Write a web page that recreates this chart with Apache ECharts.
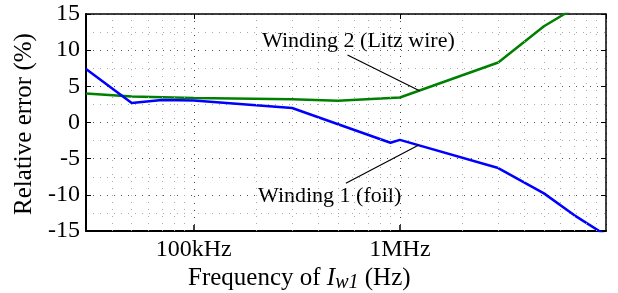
<!DOCTYPE html>
<html>
<head>
<meta charset="utf-8">
<script src="https://cdn.jsdelivr.net/npm/echarts@6/dist/echarts.min.js"></script>
<style>
  html, body { margin: 0; padding: 0; background: #fff; }
  #chart { width: 618px; height: 293px; }
</style>
</head>
<body>
<div id="chart"></div>
<script>
// Winding 1 (foil) - blue
const foilFreq = [30e3, 50e3, 70e3, 100e3, 300e3, 900e3, 1e6, 3e6, 5e6, 7e6, 10e6];
const foilErr = [7.4, 2.7, 3.1, 3.05, 2.0, -2.8, -2.4, -6.3, -9.8, -12.8, -15.6];

// Winding 2 (Litz wire) - green
const litzFreq = [30e3, 50e3, 100e3, 300e3, 500e3, 1e6, 3e6, 5e6, 7e6, 10e6];
const litzErr = [4.0, 3.6, 3.4, 3.2, 3.0, 3.45, 8.3, 13.3, 15.8, 19.0];

const xTickLabels = { 5: '100kHz', 6: '1MHz' };
const minorFreqs = [40e3, 50e3, 60e3, 70e3, 80e3, 90e3,
  200e3, 300e3, 400e3, 500e3, 600e3, 700e3, 800e3, 900e3,
  2e6, 3e6, 4e6, 5e6, 6e6, 7e6, 8e6, 9e6];

const FONT = '"Liberation Serif", "DejaVu Serif", serif';

const chart = echarts.init(document.getElementById('chart'));

const pairs = (xs, ys) => xs.map((x, i) => [x, ys[i]]);

const baseX = {
  type: 'log',
  logBase: 10,
  min: 30000,
  max: 10000000,
  gridIndex: 0
};

chart.setOption({
  animation: false,
  backgroundColor: '#fff',
  grid: { left: 86, right: 12, top: 14, bottom: 62, outerBoundsMode: 'none' },
  xAxis: [
    Object.assign({}, baseX, {
      position: 'bottom',
      axisLine: { onZero: false, lineStyle: { color: '#000', width: 2 } },
      axisTick: { inside: true, length: 6, lineStyle: { color: '#000', width: 1.5 } },
      axisLabel: {
        color: '#000', fontFamily: FONT, fontSize: 24, margin: 7,
        showMinLabel: false, showMaxLabel: false,
        formatter: v => xTickLabels[Math.round(Math.log10(v))] || ''
      },
      splitLine: { show: true, lineStyle: { color: '#444', type: [1, 6], width: 1 } }
    }),
    Object.assign({}, baseX, {
      position: 'top',
      axisLine: { onZero: false, lineStyle: { color: '#000', width: 1.5 } },
      axisTick: { inside: true, length: 5, lineStyle: { color: '#000' } },
      axisLabel: { show: false },
      splitLine: { show: false }
    })
  ],
  yAxis: [
    {
      type: 'value', min: -15, max: 15, interval: 5,
      axisLine: { show: true, onZero: false, lineStyle: { color: '#000', width: 2 } },
      axisTick: { show: true, inside: true, length: 5, lineStyle: { color: '#000' } },
      axisLabel: { color: '#000', fontFamily: FONT, fontSize: 24, margin: 6 },
      splitLine: { show: true, lineStyle: { color: '#555', type: [1, 6], width: 1 } },
      minorTick: { show: false, splitNumber: 2 },
      minorSplitLine: { show: true, lineStyle: { color: '#aaa', type: [1, 6], width: 1 } }
    },
    {
      type: 'value', min: -15, max: 15, interval: 5, position: 'right',
      axisLine: { show: true, onZero: false, lineStyle: { color: '#000', width: 1.5 } },
      axisTick: { show: true, inside: true, length: 5, lineStyle: { color: '#000' } },
      axisLabel: { show: false },
      splitLine: { show: false }
    }
  ],
  series: [
    {
      // minor vertical grid
      type: 'line', data: [], z: 1, silent: true,
      markLine: {
        silent: true, symbol: 'none', label: { show: false },
        lineStyle: { color: '#aaa', type: [1, 6], width: 1 },
        data: minorFreqs.map(f => ({ xAxis: f }))
      }
    },
    {
      name: 'Winding 2 (Litz wire)',
      type: 'line',
      data: pairs(litzFreq, litzErr),
      showSymbol: false,
      lineStyle: { color: '#008000', width: 2.5 },
      itemStyle: { color: '#008000' },
      clip: true,
      z: 3
    },
    {
      name: 'Winding 1 (foil)',
      type: 'line',
      data: pairs(foilFreq, foilErr),
      showSymbol: false,
      lineStyle: { color: '#0000ff', width: 2.5 },
      itemStyle: { color: '#0000ff' },
      clip: true,
      z: 4
    },
    {
      // leader lines for the annotations
      type: 'line', data: [], z: 5, silent: true,
      markLine: {
        silent: true, symbol: 'none', label: { show: false },
        lineStyle: { color: '#000', type: 'solid', width: 1.2 },
        data: [
          [{ coord: [557000, 9.34] }, { coord: [1245000, 4.4] }],
          [{ coord: [547000, -8.41] }, { coord: [1235000, -3.11] }]
        ]
      }
    }
  ],
  graphic: [
    {
      type: 'text', x: 262, y: 41,
      style: { text: 'Winding 2 (Litz wire)', font: '22px ' + FONT, fill: '#000', align: 'left', verticalAlign: 'middle' }
    },
    {
      type: 'text', x: 258, y: 196,
      style: { text: 'Winding 1 (foil)', font: '22px ' + FONT, fill: '#000', align: 'left', verticalAlign: 'middle' }
    },
    {
      type: 'text', x: 24, y: 124, rotation: Math.PI / 2,
      style: { text: 'Relative error (%)', font: '25px ' + FONT, fill: '#000', align: 'center', verticalAlign: 'middle' }
    },
    {
      type: 'text', x: 188, y: 278,
      style: {
        text: '{a|Frequency of }{b|I}{c|w1}{a| (Hz)}',
        align: 'left', verticalAlign: 'middle',
        rich: {
          a: { fontFamily: FONT, fontSize: 25, color: '#000', lineHeight: 30, verticalAlign: 'middle' },
          b: { fontFamily: FONT, fontSize: 25, fontStyle: 'italic', color: '#000', lineHeight: 30, verticalAlign: 'middle' },
          c: { fontFamily: FONT, fontSize: 20, fontStyle: 'italic', color: '#000', lineHeight: 14, verticalAlign: 'bottom' }
        }
      }
    }
  ]
});

window.addEventListener('resize', () => chart.resize());
</script>
</body>
</html>
